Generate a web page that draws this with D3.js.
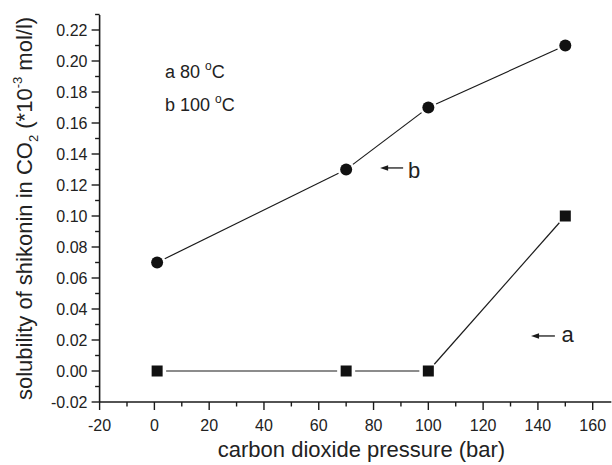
<!DOCTYPE html>
<html><head><meta charset="utf-8">
<script src="https://cdn.jsdelivr.net/npm/d3@7/dist/d3.min.js"></script>
<style>body{margin:0;background:#fff;} text{font-family:"Liberation Sans",Arial,sans-serif;fill:#222;}</style>
</head><body><svg id="c" width="612" height="465"></svg>
<script>
const pressure = [1, 70, 100, 150];
const seriesA = [0.00, 0.00, 0.00, 0.10];   // 80 °C, squares
const seriesB = [0.07, 0.13, 0.17, 0.21];   // 100 °C, circles
const xTicks = [-20, 0, 20, 40, 60, 80, 100, 120, 140, 160];
const yTicks = [-0.02, 0.00, 0.02, 0.04, 0.06, 0.08, 0.10, 0.12, 0.14, 0.16, 0.18, 0.20, 0.22];

const svg = d3.select("#c");
const x = d3.scaleLinear().domain([-20, 160]).range([99.6, 592.7]);
const y = d3.scaleLinear().domain([-0.02, 0.22]).range([402, 30]);
const ink = "#1a1a1a";
const hy = s => s.replace("\u2212", "-");

// axes lines
svg.append("line").attr("x1", x(-20)).attr("x2", x(166.8)).attr("y1", y(-0.02)).attr("y2", y(-0.02))
  .attr("stroke", ink).attr("stroke-width", 1.6);
svg.append("line").attr("x1", x(-20)).attr("x2", x(-20)).attr("y1", y(-0.02)).attr("y2", y(0.2297))
  .attr("stroke", ink).attr("stroke-width", 1.6);

// x ticks
const xMinor = d3.range(-10, 166, 20);
xTicks.forEach(v => {
  svg.append("line").attr("x1", x(v)).attr("x2", x(v)).attr("y1", y(-0.02)).attr("y2", y(-0.02) + 8)
    .attr("stroke", ink).attr("stroke-width", 1.4);
  svg.append("text").attr("x", x(v)).attr("y", 431).attr("text-anchor", "middle")
    .attr("font-size", 16).text(hy(d3.format("d")(v)));
});
xMinor.forEach(v => {
  svg.append("line").attr("x1", x(v)).attr("x2", x(v)).attr("y1", y(-0.02)).attr("y2", y(-0.02) + 4.5)
    .attr("stroke", ink).attr("stroke-width", 1.4);
});
// y ticks
const yMinor = d3.range(-0.01, 0.2305, 0.02);
yTicks.forEach(v => {
  svg.append("line").attr("x1", x(-20) - 8).attr("x2", x(-20)).attr("y1", y(v)).attr("y2", y(v))
    .attr("stroke", ink).attr("stroke-width", 1.4);
  svg.append("text").attr("x", 87.5).attr("y", y(v) + 6).attr("text-anchor", "end")
    .attr("font-size", 16).text(hy(d3.format(".2f")(v)));
});
yMinor.forEach(v => {
  svg.append("line").attr("x1", x(-20) - 4.5).attr("x2", x(-20)).attr("y1", y(v)).attr("y2", y(v))
    .attr("stroke", ink).attr("stroke-width", 1.4);
});

// titles
svg.append("text").attr("x", 361.5).attr("y", 457).attr("text-anchor", "middle")
  .attr("font-size", 22).text("carbon dioxide pressure (bar)");
const yt = svg.append("text").attr("transform", "translate(32,208.5) rotate(-90)")
  .attr("text-anchor", "middle").attr("font-size", 22);
yt.append("tspan").text("solubility of shikonin in CO");
yt.append("tspan").attr("font-size", 13).attr("dy", 6).text("2");
yt.append("tspan").attr("dy", -6).text(" (*10");
yt.append("tspan").attr("font-size", 13).attr("dy", -10).text("-3");
yt.append("tspan").attr("dy", 10).text("  mol/l)");

// series lines with gaps around markers
function gappedLines(vals, gap) {
  for (let i = 0; i < vals.length - 1; i++) {
    const x1 = x(pressure[i]), y1 = y(vals[i]), x2 = x(pressure[i + 1]), y2 = y(vals[i + 1]);
    const L = Math.hypot(x2 - x1, y2 - y1), ux = (x2 - x1) / L, uy = (y2 - y1) / L;
    svg.append("line").attr("x1", x1 + ux * gap).attr("y1", y1 + uy * gap)
      .attr("x2", x2 - ux * gap).attr("y2", y2 - uy * gap)
      .attr("stroke", ink).attr("stroke-width", 1.2);
  }
}
gappedLines(seriesA, 9);
gappedLines(seriesB, 8.5);
seriesA.forEach((v, i) => {
  svg.append("rect").attr("x", x(pressure[i]) - 5.5).attr("y", y(v) - 5.5)
    .attr("width", 11).attr("height", 11).attr("fill", "#111");
});
seriesB.forEach((v, i) => {
  svg.append("circle").attr("cx", x(pressure[i])).attr("cy", y(v)).attr("r", 6).attr("fill", "#111");
});

// legend text
function degText(px, py, label) {
  const t = svg.append("text").attr("x", x(px)).attr("y", y(py)).attr("font-size", 18);
  t.append("tspan").text(label + " ");
  t.append("tspan").attr("font-size", 12).attr("dy", -8).text("o");
  t.append("tspan").attr("dy", 8).text("C");
}
degText(3.9, 0.189, "a 80");
degText(3.9, 0.168, "b 100");

// arrows
function arrow(xa, xb, yv, lx, ly, lab) {
  const y0 = y(yv);
  svg.append("line").attr("x1", x(xa) + 5).attr("x2", x(xb)).attr("y1", y0).attr("y2", y0)
    .attr("stroke", ink).attr("stroke-width", 1.3);
  const xs = x(xa);
  svg.append("path").attr("d", `M${xs},${y0} L${xs + 8},${y0 - 2.8} L${xs + 8},${y0 + 2.8} Z`).attr("fill", ink);
  svg.append("text").attr("x", x(lx)).attr("y", y(ly)).attr("font-size", 22).text(lab);
}
arrow(82.4, 90.8, 0.131, 92.6, 0.1245, "b");
arrow(137.5, 146.2, 0.0226, 148.6, 0.0187, "a");
</script></body></html>
